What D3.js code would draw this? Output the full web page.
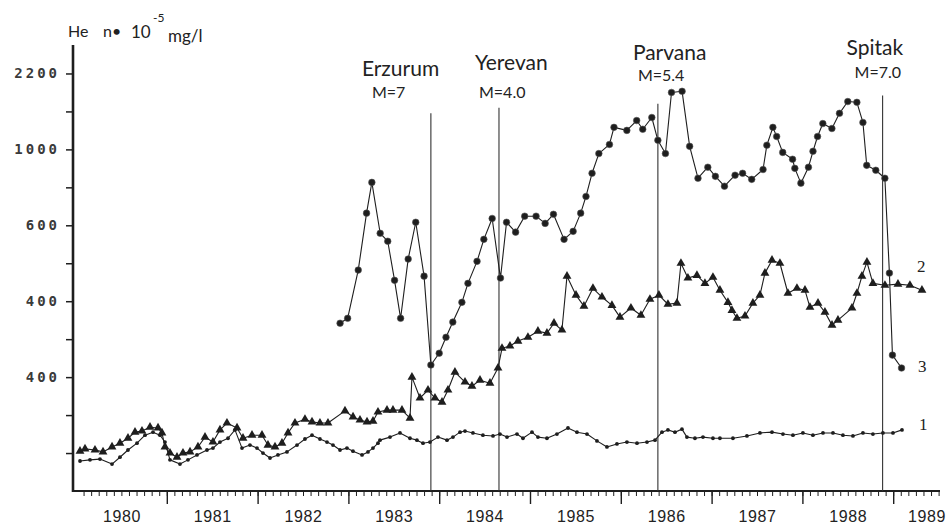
<!DOCTYPE html>
<html>
<head>
<meta charset="utf-8">
<script src="https://cdn.jsdelivr.net/npm/d3@7/dist/d3.min.js"></script>
<style>
  html, body { margin: 0; padding: 0; background: #fff; }
  svg { display: block; }
</style>
</head>
<body>
<svg id="chart" width="948" height="527"></svg>
<script>
// ---------------- DATA ----------------
// x: months since Jan 1980; y: position on the (non-linear) He axis in tick units
const years = [1980, 1981, 1982, 1983, 1984, 1985, 1986, 1987, 1988, 1989];
const yTickUnits = [1, 2, 3, 4, 5, 6, 7, 8, 9, 10, 11];
const yLabelUnits = [3, 5, 7, 9, 11];
const yLabelTexts = ["400", "400", "600", "1000", "2200"];

const series1 = [
  [0.53,0.79],[1.85,0.82],[3.17,0.84],[4.76,0.71],[5.81,0.89],[6.87,1.08],[8.06,1.26],[9.12,1.47],
  [10.18,1.55],[11.10,1.47],[11.76,1.29],[12.42,0.82],[13.74,0.71],[14.80,0.82],[15.99,0.95],[17.31,1.08],
  [18.10,1.13],[19.03,1.29],[20.09,1.39],[21.01,1.61],[21.94,1.13],[22.99,1.21],[23.92,1.13],[24.71,1.00],
  [25.64,0.87],[26.69,0.95],[27.88,1.03],[29.21,1.21],[30.26,1.37],[31.19,1.47],[32.24,1.37],[33.17,1.29],
  [33.96,1.21],[34.89,1.08],[35.81,1.13],[36.61,1.05],[37.80,0.95],[38.59,1.03],[39.25,1.13],[39.91,1.26],
  [40.17,1.34],[41.50,1.42],[42.82,1.53],[44.14,1.39],[45.06,1.34],[45.86,1.26],[46.78,1.29],[47.84,1.42],
  [49.03,1.34],[49.82,1.42],[50.75,1.55],[51.41,1.58],[52.46,1.53],[53.78,1.47],[55.11,1.45],[56.03,1.50],
  [56.96,1.42],[58.28,1.50],[59.07,1.39],[60.26,1.55],[61.05,1.42],[62.24,1.39],[63.56,1.50],[65.02,1.66],
  [66.21,1.55],[67.53,1.50],[68.85,1.32],[70.17,1.16],[71.49,1.24],[72.81,1.29],[74.14,1.26],[75.46,1.29],
  [76.52,1.34],[77.44,1.55],[78.23,1.61],[79.16,1.55],[80.08,1.63],[80.74,1.42],[81.80,1.39],[82.86,1.42],
  [84.18,1.39],[85.10,1.39],[86.82,1.39],[88.67,1.45],[90.39,1.53],[91.98,1.55],[93.43,1.50],[94.75,1.47],
  [96.07,1.53],[97.39,1.47],[98.72,1.53],[100.04,1.53],[101.36,1.47],[102.68,1.45],[104.00,1.53],
  [105.32,1.50],[106.64,1.53],[107.97,1.53],[109.16,1.61]
];

const series2 = [
  [0.53,1.05],[1.19,1.11],[2.51,1.08],[3.57,1.03],[4.76,1.16],[5.81,1.26],[6.87,1.39],[7.80,1.55],
  [8.72,1.58],[9.78,1.68],[10.84,1.66],[11.36,1.53],[11.76,1.16],[12.42,1.00],[13.35,0.89],[14.14,1.00],
  [15.07,1.03],[16.12,1.16],[17.05,1.42],[18.10,1.29],[19.03,1.61],[19.95,1.79],[21.28,1.66],[22.07,1.39],
  [23.26,1.47],[24.58,1.47],[25.37,1.21],[26.30,1.16],[27.22,1.26],[28.02,1.53],[28.94,1.79],[30.26,1.89],
  [31.19,1.82],[32.24,1.79],[33.30,1.79],[35.55,2.11],[36.61,1.95],[37.53,1.87],[38.46,1.82],[39.25,1.84],
  [39.91,2.08],[41.10,2.13],[41.89,2.13],[43.08,2.13],[44.14,1.92],[44.40,3.00],[45.46,2.45],[46.52,2.66],
  [47.44,2.45],[48.37,2.34],[49.16,2.66],[50.08,3.13],[51.41,2.87],[52.33,2.76],[53.39,2.92],[54.71,2.84],
  [55.77,3.24],[56.30,3.76],[57.35,3.82],[58.41,3.95],[59.73,4.05],[61.05,4.21],[62.24,4.16],[63.17,4.42],
  [64.22,4.24],[64.89,5.66],[66.08,5.16],[67.13,4.87],[68.32,5.34],[69.51,5.11],[70.83,4.89],[71.89,4.58],
  [73.34,4.82],[74.66,4.63],[75.85,5.05],[77.04,5.16],[78.23,4.92],[79.42,4.95],[79.95,6.00],[80.87,5.61],
  [82.06,5.68],[83.12,5.47],[84.18,5.63],[85.10,5.29],[86.16,4.97],[86.69,4.76],[87.35,4.55],[88.41,4.61],
  [89.46,4.95],[90.39,5.16],[91.05,5.74],[91.98,6.08],[93.03,6.00],[94.09,5.21],[95.28,5.34],[96.34,5.29],
  [97.00,4.84],[98.06,4.95],[98.98,4.71],[99.91,4.37],[100.70,4.50],[102.55,4.82],[103.21,5.21],
  [103.87,5.66],[104.53,6.03],[105.32,5.47],[106.91,5.42],[108.63,5.45],[110.21,5.42],[111.80,5.29]
];

const series3 = [
  [34.9,4.42],[35.9,4.55],[37.3,5.82],[38.4,7.32],[39.1,8.13],[40.2,6.79],[41.2,6.58],[42.1,5.55],
  [42.9,4.55],[43.9,6.11],[44.9,7.08],[46.0,5.66],[46.9,3.32],[48.0,3.63],[48.9,4.05],[49.8,4.45],
  [51.0,4.97],[51.8,5.47],[53.0,6.05],[53.9,6.63],[55.0,7.18],[56.1,5.61],[56.9,7.08],[58.1,6.82],
  [59.3,7.24],[60.8,7.24],[62.0,7.05],[63.1,7.29],[64.5,6.63],[65.7,6.84],[66.7,7.32],[67.4,7.76],
  [68.2,8.37],[69.1,8.89],[70.5,9.13],[71.1,9.58],[72.8,9.50],[74.1,9.76],[74.9,9.53],[76.1,9.84],
  [76.9,9.24],[77.9,8.89],[78.7,10.50],[80.1,10.53],[81.1,9.08],[82.2,8.24],[83.5,8.53],[84.5,8.29],
  [85.7,8.03],[87.1,8.32],[88.1,8.37],[89.3,8.21],[90.8,8.47],[91.3,9.11],[92.1,9.58],[92.6,9.34],
  [93.4,8.92],[94.7,8.74],[95.0,8.50],[95.8,8.11],[96.8,8.53],[97.4,8.95],[98.0,9.34],[98.7,9.68],
  [99.9,9.55],[100.9,9.95],[102.0,10.26],[103.2,10.24],[104.0,9.71],[104.5,8.58],[105.7,8.45],
  [106.9,8.24],[107.5,5.74],[107.9,3.58],[109.1,3.24]
];

const seriesNames = ["1", "2", "3"];
const eventNames = ["Erzurum", "Yerevan", "Parvana", "Spitak"];
const eventMagnitudes = ["M=7", "M=4.0", "M=5.4", "M=7.0"];
const eventMonths = [46.9, 55.9, 76.9, 106.6];
const eventTops = [9.95, 10.1, 10.2, 10.42];

// ---------------- LAYOUT ----------------
const svg = d3.select("#chart");
const axisX = 73, axisY = 491, axisTop = 45, axisRight = 940;
const x = d3.scaleLinear().domain([0, 120]).range([76, 984]);
const y = d3.scaleLinear().domain([0, 11.75]).range([axisY, axisTop]);
const ink = "#1e1e1e";

const eventLayout = [
  {dx: -69, ny: 76, mdx: -59, my: 98},
  {dx: -24, ny: 70, mdx: -20, my: 98},
  {dx: -25, ny: 60, mdx: -20, my: 81},
  {dx: -36, ny: 55, mdx: -28, my: 78}
];
const seriesLabelPos = [{x: 919, y: 430}, {x: 917, y: 272}, {x: 918, y: 372}];

// ---------------- AXES ----------------
const yAxis = d3.axisLeft(y).tickValues(yTickUnits).tickSize(7)
  .tickFormat(d => { const i = yLabelUnits.indexOf(d); return i >= 0 ? yLabelTexts[i] : ""; })
  .tickPadding(6);
const gy = svg.append("g").attr("transform", `translate(${axisX},0)`).call(yAxis);
gy.select(".domain").remove();
gy.selectAll(".tick line").attr("stroke", ink).attr("stroke-width", 1.5);
gy.selectAll(".tick text")
  .attr("font-family", "'DejaVu Sans Mono', monospace")
  .attr("font-size", 14).attr("font-weight", "bold")
  .attr("fill", "#3a3a3a").attr("letter-spacing", "3px");

// x minor (monthly) ticks
const monthTicks = d3.range(1, 115);
const gxMinor = svg.append("g").attr("transform", `translate(0,${axisY})`)
  .call(d3.axisBottom(x).tickValues(monthTicks).tickSize(5).tickFormat(""));
gxMinor.select(".domain").remove();
gxMinor.selectAll(".tick line").attr("stroke", ink).attr("stroke-width", 1);

// x major (year) ticks
const yearStarts = years.slice(1).map(yv => (yv - 1980) * 12);
const gxMajor = svg.append("g").attr("transform", `translate(0,${axisY})`)
  .call(d3.axisBottom(x).tickValues(yearStarts).tickSize(13).tickFormat(""));
gxMajor.select(".domain").remove();
gxMajor.selectAll(".tick line").attr("stroke", ink).attr("stroke-width", 1.4);

// year labels centred in each year
const yearMids = years.map(yv => (yv - 1980) * 12 + 6);
const gxLab = svg.append("g").attr("transform", `translate(0,${axisY})`)
  .call(d3.axisBottom(x).tickValues(yearMids).tickSize(0).tickPadding(31)
    .tickFormat((d, i) => String(years[i])));
gxLab.select(".domain").remove();
gxLab.selectAll(".tick text")
  .attr("font-family", "'Liberation Sans', Arial, sans-serif")
  .attr("font-size", 16).attr("fill", "#222").attr("letter-spacing", "0.6px")
  .attr("dy", 0)
  .each(function() {
    const t = d3.select(this);
    const bb = this.getBBox();
    const tr = d3.select(this.parentNode).attr("transform");
    const tx = +tr.match(/translate\(([-\d.]+)/)[1];
    if (tx + bb.width / 2 > 946) t.attr("x", 946 - bb.width / 2 - tx);
  });

// axis lines
svg.append("line").attr("x1", axisX).attr("x2", axisX).attr("y1", axisTop).attr("y2", axisY + 1)
  .attr("stroke", ink).attr("stroke-width", 2.6);
svg.append("line").attr("x1", axisX).attr("x2", axisRight).attr("y1", axisY).attr("y2", axisY)
  .attr("stroke", ink).attr("stroke-width", 2.2);

// y axis title
const title = svg.append("g").attr("font-family", "Lato, 'Open Sans', sans-serif").attr("fill", "#222");
title.append("text").attr("x", 68).attr("y", 37).attr("font-size", 16).text("He");
title.append("text").attr("x", 103).attr("y", 37).attr("font-size", 16).text("n•");
title.append("text").attr("x", 131).attr("y", 38).attr("font-size", 17).text("10");
title.append("text").attr("x", 153).attr("y", 22).attr("font-size", 12).text("-5");
title.append("text").attr("x", 168).attr("y", 42).attr("font-size", 17).text("mg/l");

// ---------------- EVENT LINES ----------------
const ev = svg.append("g");
eventMonths.forEach((m, i) => {
  ev.append("line").attr("x1", x(m)).attr("x2", x(m))
    .attr("y1", y(eventTops[i])).attr("y2", axisY)
    .attr("stroke", "#333").attr("stroke-width", 1.1);
  ev.append("text").attr("x", x(m) + eventLayout[i].dx).attr("y", eventLayout[i].ny)
    .attr("font-family", "Lato, 'Open Sans', sans-serif").attr("font-size", 21)
    .attr("fill", "#222").text(eventNames[i]);
  ev.append("text").attr("x", x(m) + eventLayout[i].mdx).attr("y", eventLayout[i].my)
    .attr("font-family", "Lato, 'Open Sans', sans-serif").attr("font-size", 16)
    .attr("fill", "#222").text(eventMagnitudes[i]);
});

// ---------------- SERIES ----------------
const line = d3.line().x(d => x(d[0])).y(d => y(d[1]));
function drawLine(data) {
  svg.append("path").datum(data).attr("d", line)
    .attr("fill", "none").attr("stroke", ink).attr("stroke-width", 1.1)
    .attr("stroke-linejoin", "round");
}
drawLine(series1);
drawLine(series2);
drawLine(series3);

// series 1: small dots
svg.append("g").selectAll("circle").data(series1).join("circle")
  .attr("cx", d => x(d[0])).attr("cy", d => y(d[1])).attr("r", 1.9)
  .attr("fill", ink);

// series 2: triangles
const tri = d3.symbol().type(d3.symbolTriangle).size(34);
svg.append("g").selectAll("path").data(series2).join("path")
  .attr("d", tri)
  .attr("transform", d => `translate(${x(d[0])},${y(d[1])})`)
  .attr("fill", ink);

// series 3: filled circles
svg.append("g").selectAll("circle").data(series3).join("circle")
  .attr("cx", d => x(d[0])).attr("cy", d => y(d[1])).attr("r", 3.3)
  .attr("fill", ink).attr("stroke", "#555").attr("stroke-width", 0.6);

// series labels
svg.append("g").selectAll("text").data(seriesNames).join("text")
  .attr("x", (d, i) => seriesLabelPos[i].x).attr("y", (d, i) => seriesLabelPos[i].y)
  .attr("font-family", "'Liberation Serif', serif").attr("font-size", 17)
  .attr("fill", "#222").text(d => d);
</script>
</body>
</html>
